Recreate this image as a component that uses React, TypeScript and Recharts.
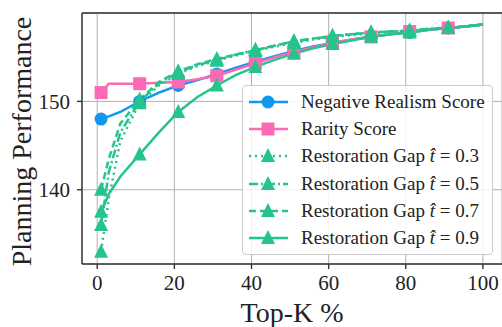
import React from 'react';
import { LineChart, Line, XAxis, YAxis, CartesianGrid, ReferenceLine } from 'recharts';

const topK = [1, 3, 6, 11, 16, 21, 26, 31, 36, 41, 46, 51, 56, 61, 66, 71, 76, 81, 86, 91, 96, 100];
const markerAt = [1, 11, 21, 31, 41, 51, 61, 71, 81, 91];

const negRealism = [148.0, 148.3, 148.8, 150.0, 151.0, 151.8, 152.4, 153.1, 153.8, 154.5, 155.1, 155.7, 156.2, 156.6, 157.0, 157.3, 157.6, 157.8, 158.1, 158.3, 158.5, 158.7];
const rarity = [151.0, 152.0, 152.0, 152.0, 152.1, 152.2, 152.5, 152.9, 153.6, 154.3, 155.0, 155.6, 156.1, 156.6, 157.0, 157.3, 157.6, 157.9, 158.1, 158.3, 158.5, 158.7];
const gap03 = [133.0, 139.0, 145.5, 149.8, 151.8, 153.1, 154.0, 154.6, 155.2, 155.7, 156.2, 156.6, 157.0, 157.3, 157.5, 157.7, 157.9, 158.0, 158.2, 158.3, 158.5, 158.7];
const gap05 = [136.0, 142.0, 146.5, 150.0, 152.0, 153.3, 154.1, 154.7, 155.3, 155.8, 156.3, 156.8, 157.1, 157.4, 157.6, 157.8, 157.9, 158.0, 158.2, 158.3, 158.5, 158.7];
const gap07 = [140.0, 143.5, 147.5, 150.2, 152.2, 153.4, 154.2, 154.8, 155.3, 155.8, 156.3, 156.8, 157.1, 157.4, 157.6, 157.8, 157.9, 158.0, 158.2, 158.3, 158.5, 158.7];
const gap09 = [137.5, 139.5, 141.5, 144.0, 146.5, 148.8, 150.5, 151.8, 153.0, 153.9, 154.7, 155.4, 156.0, 156.5, 156.9, 157.3, 157.6, 157.8, 158.1, 158.3, 158.5, 158.7];

const xTicks = [0, 20, 40, 60, 80, 100];
const yTicks = [140, 150];

const BLUE = '#1196f2';
const PINK = '#fa6ab6';
const GREEN = '#25c48b';

const data = topK.map((k, i) => ({
  k,
  neg: negRealism[i],
  rar: rarity[i],
  g03: gap03[i],
  g05: gap05[i],
  g07: gap07[i],
  g09: gap09[i],
}));

type Shape = 'circle' | 'square' | 'triangle';

const series: { key: string; name: React.ReactNode; color: string; dash?: string; shape: Shape }[] = [
  { key: 'neg', name: 'Negative Realism Score', color: BLUE, shape: 'circle' },
  { key: 'rar', name: 'Rarity Score', color: PINK, shape: 'square' },
  { key: 'g03', name: <>Restoration Gap <i>t̂</i> = 0.3</>, color: GREEN, dash: '2 4', shape: 'triangle' },
  { key: 'g05', name: <>Restoration Gap <i>t̂</i> = 0.5</>, color: GREEN, dash: '9 3 2 3', shape: 'triangle' },
  { key: 'g07', name: <>Restoration Gap <i>t̂</i> = 0.7</>, color: GREEN, dash: '7 4', shape: 'triangle' },
  { key: 'g09', name: <>Restoration Gap <i>t̂</i> = 0.9</>, color: GREEN, shape: 'triangle' },
];

function marker(shape: Shape, cx: number, cy: number, color: string, key?: string) {
  if (shape === 'circle') return <circle key={key} cx={cx} cy={cy} r={6.5} fill={color} />;
  if (shape === 'square') return <rect key={key} x={cx - 6.5} y={cy - 6.5} width={13} height={13} fill={color} />;
  return <polygon key={key} points={`${cx},${cy - 8} ${cx - 7},${cy + 6} ${cx + 7},${cy + 6}`} fill={color} />;
}

const serif = '"Liberation Serif", "DejaVu Serif", serif';

function ChartLegend() {
  return (
    <div style={{
      position: 'absolute', left: 242, top: 85, width: 251, height: 170,
      border: '1px solid #cccccc', borderRadius: 4, background: 'rgba(255,255,255,0.85)',
      padding: '2px 0 0 5px', boxSizing: 'border-box',
    }}>
      {series.map(s => (
        <div key={s.key} style={{ display: 'flex', alignItems: 'center', height: 27.3 }}>
          <svg width={42} height={20} style={{ marginRight: 11 }}>
            <line x1={1} y1={10} x2={40} y2={10} stroke={s.color} strokeWidth={2.5} strokeDasharray={s.dash} />
            {marker(s.shape, 20, 10, s.color)}
          </svg>
          <span style={{ fontFamily: serif, fontSize: 19, color: '#222', whiteSpace: 'nowrap' }}>{s.name}</span>
        </div>
      ))}
    </div>
  );
}

export default function App() {
  return (
    <div style={{ position: 'fixed', left: 0, top: 0, width: 502, height: 327, background: '#fff' }}>
      <LineChart width={502} height={327} data={data} margin={{ top: 13, right: 0, bottom: 0, left: 0 }}>
        <CartesianGrid stroke="#b0b0b0" strokeWidth={1} />
        <XAxis
          dataKey="k" type="number" domain={[-3.95, 104.95]} ticks={xTicks} allowDataOverflow
          height={63} tickSize={5} tickMargin={6} stroke="#333" strokeWidth={1.4}
          tick={{ fontFamily: serif, fontSize: 21, fill: '#222' }}
          label={{
            content: (p: any) => (
              <text x={p.viewBox.x + p.viewBox.width / 2} y={p.viewBox.y + 58} textAnchor="middle"
                fontFamily={serif} fontSize={28} fill="#222">Top-K %</text>
            ),
          }}
        />
        <YAxis
          type="number" domain={[131.6, 160]} ticks={yTicks} allowDataOverflow
          width={82} tickSize={5} tickMargin={7} stroke="#333" strokeWidth={1.4}
          tick={{ fontFamily: serif, fontSize: 21, fill: '#222' }}
          label={{
            content: (p: any) => {
              const cx = 21;
              const cy = p.viewBox.y + p.viewBox.height / 2 + 3;
              return (
                <text x={cx} y={cy} textAnchor="middle" dominantBaseline="central"
                  transform={`rotate(-90 ${cx} ${cy})`} fontFamily={serif} fontSize={28} fill="#222">
                  Planning Performance
                </text>
              );
            },
          }}
        />
        <ReferenceLine y={160} stroke="#333" strokeWidth={1.4} />
        {series.map(s => (
          <Line
            key={s.key} dataKey={s.key} type="linear" stroke={s.color} strokeWidth={2.5}
            strokeDasharray={s.dash} isAnimationActive={false} legendType="none"
            dot={(p: any) => markerAt.includes(p.payload.k)
              ? marker(s.shape, p.cx, p.cy, s.color, `${s.key}-${p.index}`)
              : <g key={`${s.key}-${p.index}`} />}
            activeDot={false}
          />
        ))}
      </LineChart>
      <ChartLegend />
    </div>
  );
}
